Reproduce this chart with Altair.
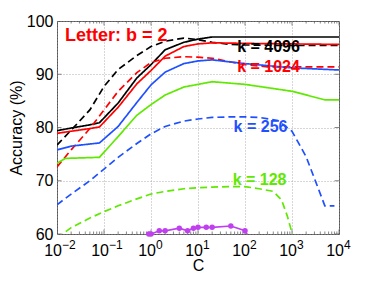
import altair as alt
import pandas as pd

# ---------------- data ----------------
C_k4096_solid = [0.01, 0.02, 0.05, 0.08, 0.2, 0.5, 1, 2, 5, 10, 20, 100, 1000, 10000]
acc_k4096_solid = [79.4, 79.9, 80.5, 80.9, 84.6, 89.3, 91.8, 94.6, 96.0, 96.6, 97.0, 97.0, 97.0, 97.0]

C_k4096_dash = [0.01, 0.02, 0.05, 0.1, 0.2, 0.5, 1, 2, 5, 10, 20, 50, 100, 1000, 10000]
acc_k4096_dash = [76.7, 79.5, 83.3, 87.7, 90.9, 93.5, 95.2, 96.2, 96.8, 96.5, 96.0, 95.6, 95.5, 95.4, 95.4]

C_k1024_solid = [0.01, 0.02, 0.05, 0.08, 0.2, 0.5, 1, 2, 5, 10, 20, 100, 1000, 10000]
acc_k1024_solid = [78.9, 79.3, 79.8, 80.1, 83.8, 88.2, 90.7, 93.4, 95.2, 95.7, 95.9, 95.8, 95.7, 95.6]

C_k1024_dash = [0.01, 0.02, 0.05, 0.1, 0.2, 0.5, 1, 2, 5, 10, 20, 50, 100, 300, 10000]
acc_k1024_dash = [72.6, 75.8, 79.8, 83.3, 86.8, 90.3, 92.2, 93.0, 93.3, 93.2, 93.0, 92.3, 91.8, 91.4, 91.4]

C_k256_solid = [0.01, 0.02, 0.05, 0.08, 0.2, 0.5, 1, 2, 5, 10, 20, 50, 100, 1000, 10000]
acc_k256_solid = [75.8, 76.5, 76.9, 77.1, 80.2, 84.7, 88.0, 90.4, 92.0, 92.5, 92.7, 92.3, 92.0, 91.2, 90.8]

C_k256_dash = [0.01, 0.02, 0.05, 0.1, 0.2, 0.5, 1, 2, 5, 10, 20, 50, 100, 200, 500, 1000, 2000, 5000, 8000]
acc_k256_dash = [65.5, 67.5, 70.0, 72.2, 74.4, 77.0, 78.8, 80.2, 81.2, 81.6, 81.9, 82.0, 82.0, 81.9, 81.3, 79.3, 74.5, 65.3, 65.3]

C_k128_solid = [0.01, 0.015, 0.08, 0.2, 0.5, 1, 2, 5, 10, 20, 100, 1000, 5000, 10000]
acc_k128_solid = [73.3, 74.2, 74.4, 78.3, 82.3, 84.3, 86.1, 87.6, 88.1, 88.6, 88.1, 86.8, 85.2, 85.2]

C_k128_dash = [0.01, 0.02, 0.05, 0.1, 0.2, 0.5, 1, 2, 5, 10, 20, 50, 100, 200, 400, 600, 800, 1000, 1100]
acc_k128_dash = [59.2, 61.2, 63.0, 64.2, 65.3, 66.6, 67.5, 68.0, 68.5, 68.7, 68.8, 68.9, 68.9, 68.5, 68.0, 66.4, 63.3, 60.2, 58.0]

C_base = [0.9, 1, 1.5, 2, 4, 6, 8, 10, 15, 20, 50, 100, 150]
acc_base = [60.0, 60.0, 60.6, 60.6, 61.1, 60.6, 61.1, 61.25, 61.25, 61.25, 61.5, 60.6, 58.0]

series_names = ["k4096 solid", "k4096 dashed", "k1024 solid", "k1024 dashed",
                "k256 solid", "k256 dashed", "k128 solid", "k128 dashed"]
series_C = [C_k4096_solid, C_k4096_dash, C_k1024_solid, C_k1024_dash,
            C_k256_solid, C_k256_dash, C_k128_solid, C_k128_dash]
series_acc = [acc_k4096_solid, acc_k4096_dash, acc_k1024_solid, acc_k1024_dash,
              acc_k256_solid, acc_k256_dash, acc_k128_solid, acc_k128_dash]

BLACK, RED, BLUE, GREEN, PURPLE = "#000000", "#ff0000", "#1f50ff", "#5fe800", "#c040f0"
series_colors = [BLACK, BLACK, RED, RED, BLUE, BLUE, GREEN, GREEN]
SOLID, DASH = [1, 0], [7, 4]
series_dashes = [SOLID, DASH, SOLID, DASH, SOLID, DASH, SOLID, DASH]

# annotations (data coordinates)
ann_text = ["k = 4096", "k = 1024", "k = 256", "k = 128"]
ann_C = [316, 316, 214, 204]
ann_acc = [95.2, 91.4, 80.15, 70.1]
ann_color = [BLACK, RED, BLUE, GREEN]
title_text = ["Letter: b = 2"]
title_C = [0.0148]
title_acc = [97.2]

x_tick_values = [0.01, 0.1, 1, 10, 100, 1000, 10000]
x_tick_exponents = ["\u22122", "\u22121", "0", "1", "2", "3", "4"]
x_minor_values = [m * d for d in [0.01, 0.1, 1, 10, 100, 1000] for m in range(2, 10)]
y_tick_values = [60, 70, 80, 90, 100]

FONT = "Liberation Sans"
FRAME = "#555555"

# ---------------- tables ----------------
rows = []
for name, cs, accs in zip(series_names, series_C, series_acc):
    for c, a in zip(cs, accs):
        rows.append({"series": name, "C": c, "acc": a})
df_lines = pd.DataFrame(rows)
df_base = pd.DataFrame({"C": C_base, "acc": acc_base})
df_ann = pd.DataFrame({"C": ann_C, "acc": ann_acc, "text": ann_text, "col": ann_color})
df_title = pd.DataFrame({"C": title_C, "acc": title_acc, "text": title_text})
df_xlab = pd.DataFrame({"C": x_tick_values, "exp": x_tick_exponents})
df_xmaj = pd.DataFrame([{"C": c, "acc": a} for c in x_tick_values for a in (60, 100)])
df_xmin = pd.DataFrame([{"C": c, "acc": a} for c in x_minor_values for a in (60, 100)])
df_ymaj = pd.DataFrame([{"C": c, "acc": a} for a in y_tick_values for c in (0.01, 10000)])

xscale = alt.Scale(type="log", domain=[0.01, 10000], nice=False)
yscale = alt.Scale(domain=[60, 100], nice=False, zero=False)

x_enc = alt.X("C:Q", scale=xscale, title="C",
              axis=alt.Axis(values=x_tick_values, labels=False, ticks=False, domain=False,
                            grid=True, gridDash=[1, 2], gridColor="#999999", gridWidth=0.8,
                            title="C", titleFont=FONT, titleFontSize=16, titleFontWeight="normal",
                            titleColor="black", titleBaseline="alphabetic", titleY=36))
y_enc = alt.Y("acc:Q", scale=yscale, title="Accuracy (%)",
              axis=alt.Axis(values=y_tick_values, ticks=False, domain=False, labelFlush=False,
                            labelFont=FONT, labelFontSize=16, labelColor="black", labelPadding=4,
                            grid=True, gridDash=[1, 2], gridColor="#999999", gridWidth=0.8,
                            title="Accuracy (%)", titleFont=FONT, titleFontSize=16,
                            titleFontWeight="normal", titleColor="black",
                            titleAngle=270, titleBaseline="alphabetic", titleX=-36, titleY=106.5))

lines = alt.Chart(df_lines).mark_line(clip=True, strokeWidth=1.7).encode(
    x=x_enc, y=y_enc,
    color=alt.Color("series:N", scale=alt.Scale(domain=series_names, range=series_colors), legend=None),
    strokeDash=alt.StrokeDash("series:N", scale=alt.Scale(domain=series_names, range=series_dashes), legend=None),
)

base_line = alt.Chart(df_base).mark_line(clip=True, strokeWidth=1.7, color=PURPLE).encode(x=x_enc, y=y_enc)
base_pts = alt.Chart(df_base).transform_filter("datum.acc >= 60").mark_circle(
    size=30, color=PURPLE, opacity=1).encode(x=x_enc, y=y_enc)

ann = alt.Chart(df_ann).mark_text(font=FONT, fontSize=16, fontWeight="bold", align="center",
                                  baseline="middle").encode(
    x=x_enc, y=y_enc, text="text:N", color=alt.Color("col:N", scale=None))
ttl = alt.Chart(df_title).mark_text(font=FONT, fontSize=18, fontWeight="bold", align="left",
                                    baseline="middle", color=RED).encode(x=x_enc, y=y_enc, text="text:N")

xmaj = alt.Chart(df_xmaj).mark_tick(orient="vertical", size=9, thickness=1, color=FRAME,
                                    clip=True).encode(x=x_enc, y=y_enc)
xmin = alt.Chart(df_xmin).mark_tick(orient="vertical", size=5, thickness=1, color=FRAME,
                                    clip=True).encode(x=x_enc, y=y_enc)
ymaj = alt.Chart(df_ymaj).mark_tick(orient="horizontal", size=9, thickness=1, color=FRAME,
                                    clip=True).encode(x=x_enc, y=y_enc)

xlab_base = alt.Chart(df_xlab).mark_text(text="10", font=FONT, fontSize=16, align="right",
                                         baseline="alphabetic", dx=5, color="black").encode(
    x=x_enc, y=alt.value(235))
xlab_exp = alt.Chart(df_xlab).mark_text(font=FONT, fontSize=12, align="left",
                                        baseline="alphabetic", dx=5, color="black").encode(
    x=x_enc, y=alt.value(228), text="exp:N")

chart = alt.layer(
    xmin, xmaj, ymaj, lines, base_line, base_pts, ann, ttl, xlab_base, xlab_exp
).properties(
    width=282, height=213,
    autosize=alt.AutoSizeParams(type="none"),
    padding={"left": 49, "top": 13, "right": 19, "bottom": 39},
).configure_view(stroke=FRAME, strokeWidth=1)

chart.save("out.html", embed_options={"renderer": "svg", "actions": False})
